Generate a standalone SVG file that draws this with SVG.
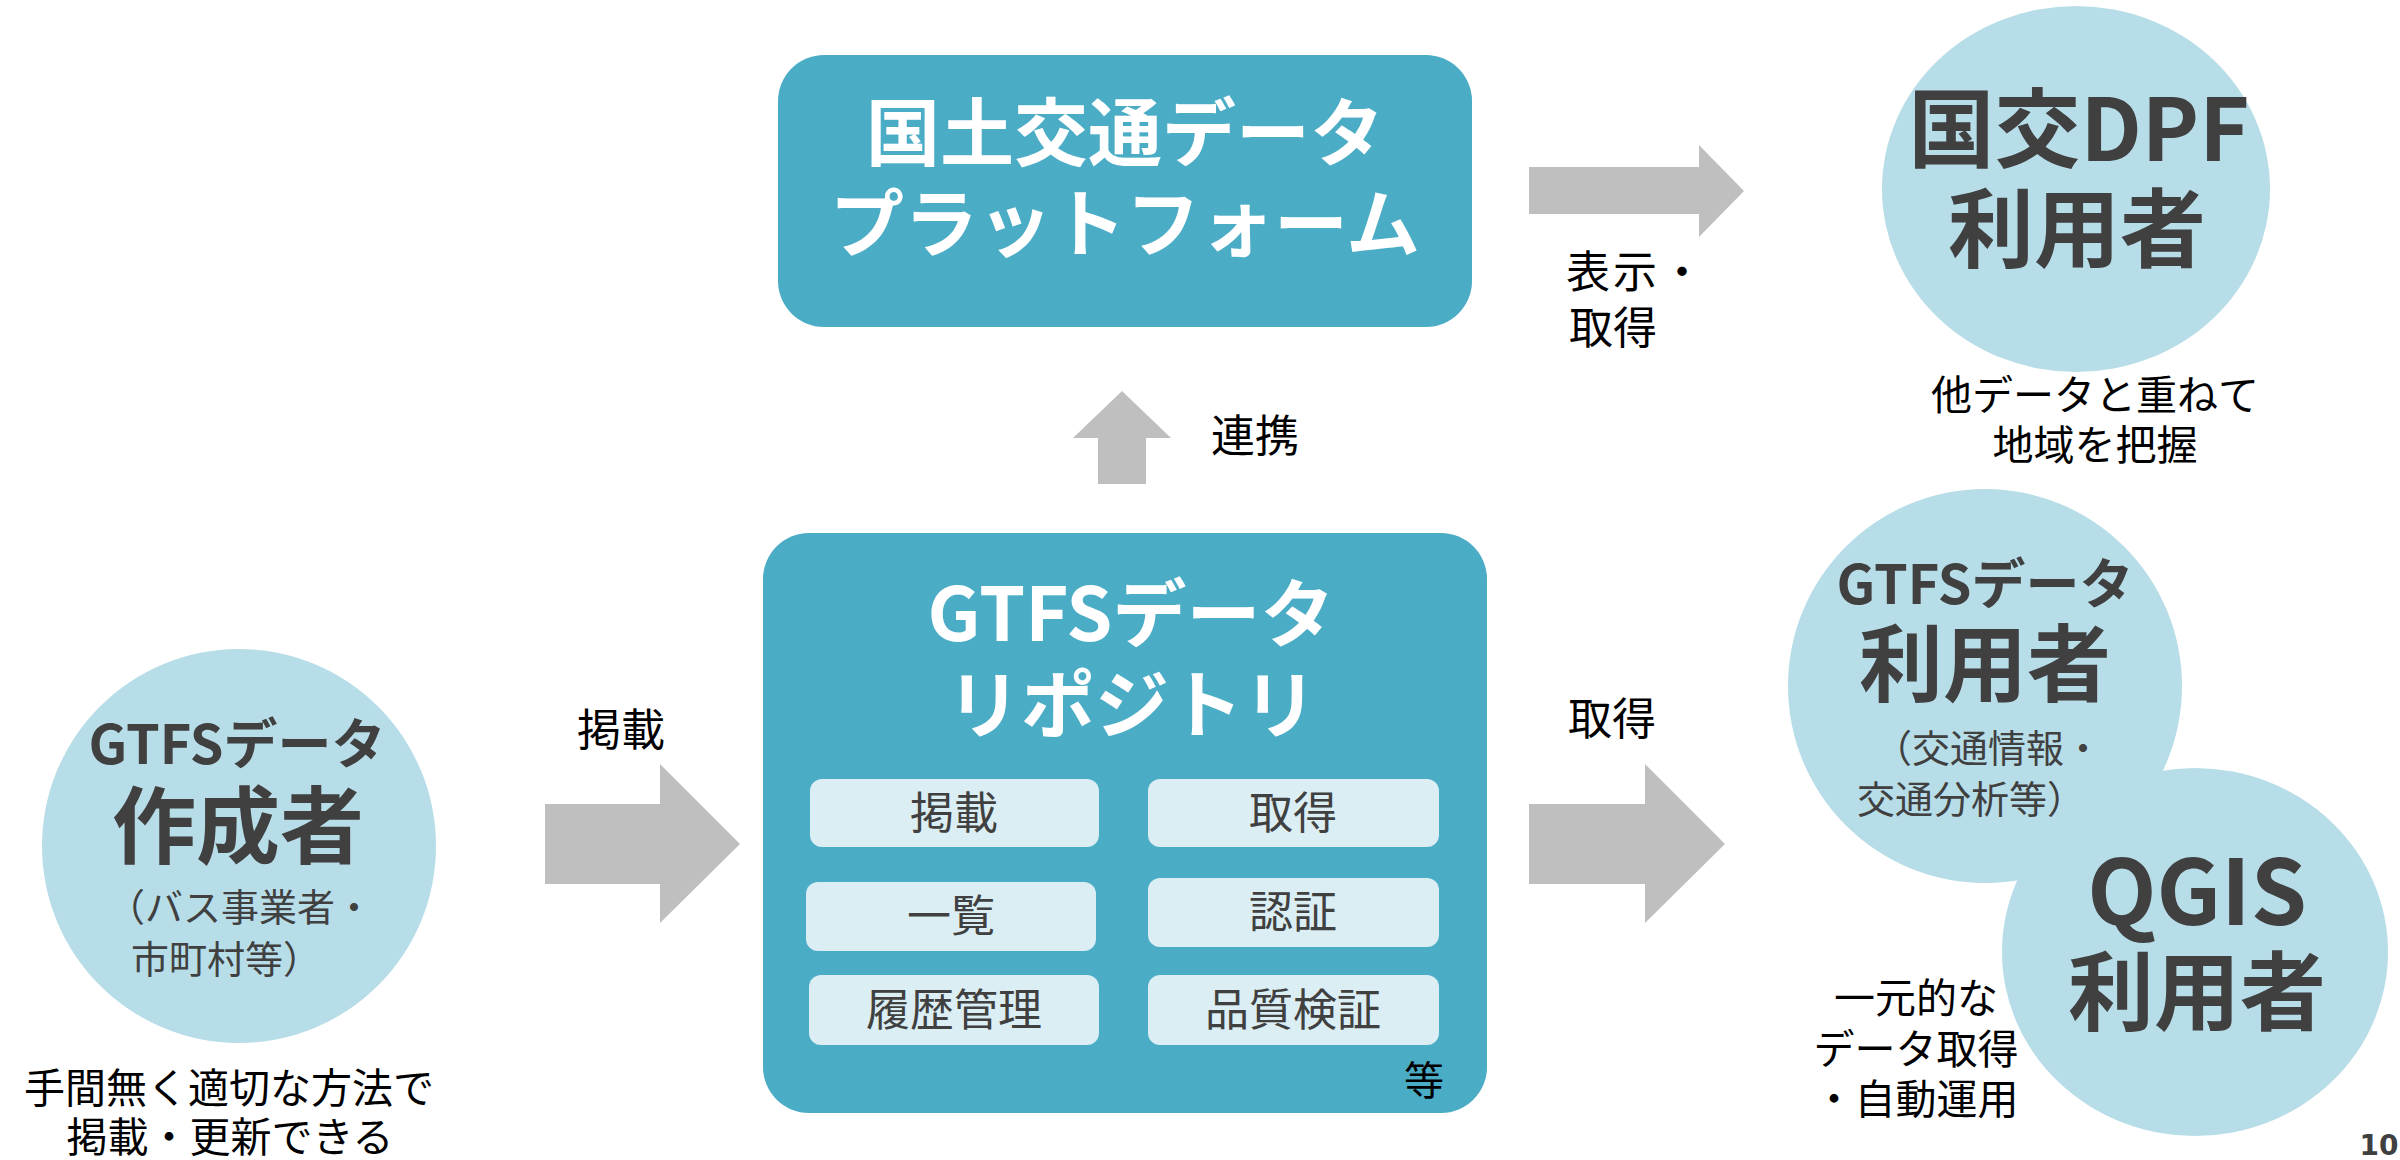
<svg xmlns="http://www.w3.org/2000/svg" width="2400" height="1160" viewBox="0 0 2400 1160">
<style>
text{font-family:"Noto Sans CJK JP","Noto Sans",sans-serif;text-anchor:middle}
.box{fill:#4bacc6}
.pill{fill:#daeef3}
.circ{fill:#b7dde8}
.arr{fill:#bfbfbf}
.wt{fill:#ffffff;font-weight:bold;font-size:74px}
.pt{fill:#404040;font-size:44px}
.lbl{fill:#000000;font-size:44px}
.note{fill:#000000;font-size:41px}
.sub{fill:#404040;font-size:38px}
.h1{fill:#404040;font-weight:bold;font-size:84px}
.h2{fill:#404040;font-weight:bold;font-size:54px}
</style>
<rect width="2400" height="1160" fill="#ffffff"/>
<g id="connectors">
<polygon class="arr" points="1098,484 1146,484 1146,438 1171,438 1122,391 1073,438 1098,438"/>
<polygon class="arr" points="1529,167 1699,167 1699,145 1744,191 1699,237 1699,214 1529,214"/>
<polygon class="arr" points="545,804 660,804 660,764 740,844 660,923 660,884 545,884"/>
<polygon class="arr" points="1529,804 1645,804 1645,764 1725,844 1645,923 1645,884 1529,884"/>
<text class="lbl" x="1255" y="452">連携</text>
<text class="lbl" x="1566" y="288" style="text-anchor:start;letter-spacing:3px">表示・</text>
<text class="lbl" x="1569" y="344" style="text-anchor:start">取得</text>
<text class="lbl" x="621" y="746">掲載</text>
<text class="lbl" x="1612" y="735">取得</text>
</g>
<g id="platform">
<rect class="box" x="778" y="55" width="694" height="272" rx="46"/>
<text class="wt" x="1125" y="160">国土交通データ</text>
<text class="wt" x="1125" y="251">プラットフォーム</text>
</g>
<g id="dpf-user">
<ellipse class="circ" cx="2076" cy="189" rx="194" ry="183"/>
<text class="h1" x="2079" y="161" style="font-size:86px">国交DPF</text>
<text class="h1" x="2077" y="261" style="font-size:86px">利用者</text>
<text class="note" x="2095" y="410">他データと重ねて</text>
<text class="note" x="2095" y="460">地域を把握</text>
</g>
<g id="repository">
<rect class="box" x="763" y="533" width="724" height="580" rx="46"/>
<text class="wt" x="1131" y="641">GTFSデータ</text>
<text class="wt" x="1132" y="732">リポジトリ</text>
<rect class="pill" x="810" y="779" width="289" height="68" rx="12"/>
<text class="pt" x="954" y="829">掲載</text>
<rect class="pill" x="1148" y="779" width="291" height="68" rx="12"/>
<text class="pt" x="1293" y="829">取得</text>
<rect class="pill" x="806" y="882" width="290" height="69" rx="12"/>
<text class="pt" x="951" y="932">一覧</text>
<rect class="pill" x="1148" y="878" width="291" height="69" rx="12"/>
<text class="pt" x="1293" y="928">認証</text>
<rect class="pill" x="809" y="975" width="290" height="70" rx="12"/>
<text class="pt" x="954" y="1026">履歴管理</text>
<rect class="pill" x="1148" y="975" width="291" height="70" rx="12"/>
<text class="pt" x="1293" y="1026">品質検証</text>
<text x="1424" y="1095" style="fill:#000000;font-size:40px">等</text>
</g>
<g id="creator">
<circle class="circ" cx="239" cy="846" r="197"/>
<text class="h2" x="237" y="764">GTFSデータ</text>
<text class="h1" x="238" y="857">作成者</text>
<text class="sub" x="240" y="921">（バス事業者・</text>
<text class="sub" x="226" y="973">市町村等）</text>
<text class="note" x="229" y="1103">手間無く適切な方法で</text>
<text class="note" x="230" y="1152">掲載・更新できる</text>
</g>
<g id="gtfs-user">
<circle class="circ" cx="1985" cy="686" r="197"/>
<text class="h2" x="1985" y="604">GTFSデータ</text>
<text class="h1" x="1985" y="695">利用者</text>
<text class="sub" x="1988" y="762">（交通情報・</text>
<text class="sub" x="1971" y="813">交通分析等）</text>
</g>
<g id="qgis-user">
<ellipse class="circ" cx="2195" cy="952" rx="193" ry="184"/>
<text class="h1" x="2197" y="925" style="font-size:90px">QGIS</text>
<text class="h1" x="2197" y="1024" style="font-size:86px">利用者</text>
<text class="note" x="1916" y="1013">一元的な</text>
<text class="note" x="1916" y="1064">データ取得</text>
<text class="note" x="1916" y="1114">・自動運用</text>
</g>
<text x="2379" y="1155" style="fill:#404040;font-family:'DejaVu Sans',sans-serif;font-weight:bold;font-size:28px">10</text>
</svg>
